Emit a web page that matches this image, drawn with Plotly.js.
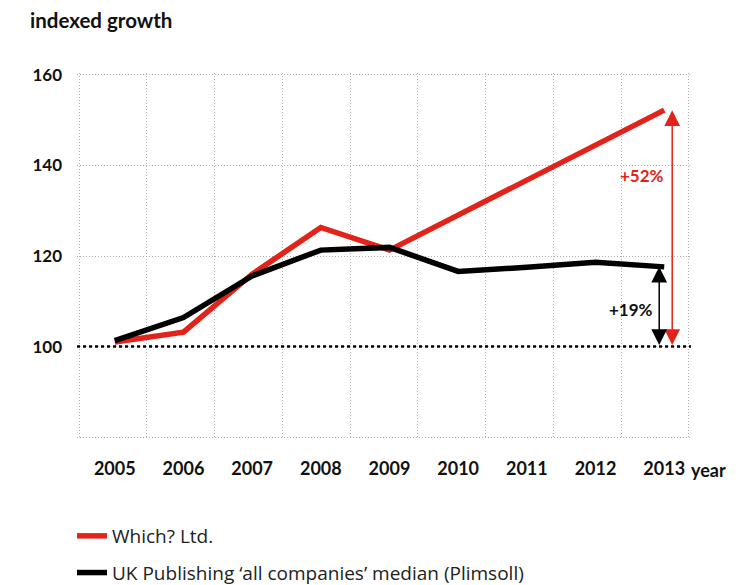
<!DOCTYPE html>
<html>
<head>
<meta charset="utf-8">
<script src="https://cdn.plot.ly/plotly-3.0.1.min.js"></script>
<style>html,body{margin:0;padding:0;background:#fff}#chart{width:756px;height:585px}</style>
</head>
<body>
<div id="chart"></div>
<script>
const years = [2005, 2006, 2007, 2008, 2009, 2010, 2011, 2012, 2013];
const whichValues = [101.0, 103.2, 116.0, 126.3, 121.3, 129.0, 136.7, 144.4, 152.2];
const plimsollValues = [101.3, 106.4, 115.6, 121.3, 121.9, 116.6, 117.5, 118.6, 117.6];
const yTickVals = [80, 100, 120, 140, 160];
const yTickText = ['', '100', '120', '140', '160'];
const seriesNames = ['Which? Ltd.', 'UK Publishing \u2018all companies\u2019 median (Plimsoll)'];
const growthLabels = ['+52%', '+19%'];
const baseline = 100;

const RED = '#e2231a';
const FONT = 'Lato, "Open Sans", sans-serif';
const GRID = '#b0b0b0';

const traces = [
  {x: years, y: whichValues, name: seriesNames[0], mode: 'lines', legendgroup: 'a',
   line: {color: RED, width: 5.5}, hoverinfo: 'skip'},
  {x: years, y: plimsollValues, name: seriesNames[1], mode: 'lines', legendgroup: 'b',
   line: {color: '#000', width: 5.5}, hoverinfo: 'skip'},
  {x: [0, 9], y: [null, null], xaxis: 'x2', yaxis: 'y', showlegend: false, hoverinfo: 'skip', mode: 'lines'}
];

const lastW = whichValues[whichValues.length - 1];
const lastP = plimsollValues[plimsollValues.length - 1];
const lastYear = years[years.length - 1];

const layout = {
  width: 756, height: 585,
  margin: {l: 77, r: 65, t: 73, b: 146, autoexpand: false},
  paper_bgcolor: '#fff', plot_bgcolor: '#fff',
  font: {family: FONT, color: '#111'},
  title: {text: '<b>indexed growth</b>', x: 30/756, xanchor: 'left', xref: 'container',
          y: 1 - 21/585, yanchor: 'middle', font: {size: 20.5, color: '#111', family: FONT}},
  xaxis: {range: [2004.45, 2013.39], tickvals: years, ticktext: years.map(String), tickangle: 0,
          showgrid: false, zeroline: false, showline: false, ticks: '', automargin: false,
          ticklabelstandoff: 17, tickfont: {size: 18, color: '#111', family: FONT, weight: 'bold'}},
  xaxis2: {overlaying: 'x', range: [-0.03, 9.03], dtick: 1, tick0: 0, showgrid: true,
           gridcolor: GRID, griddash: '1px,2px', gridwidth: 1,
           showticklabels: false, zeroline: false, showline: false, ticks: ''},
  yaxis: {range: [79.6, 160.4], tickvals: yTickVals, ticktext: yTickText,
          showgrid: true, gridcolor: GRID, griddash: '1px,2px', gridwidth: 1, automargin: false,
          zeroline: false, showline: false, ticks: '', ticklabelstandoff: 14,
          tickfont: {size: 17, color: '#111', family: FONT, weight: 'bold'}},
  showlegend: true,
  legend: {x: 72/756, xref: 'container', xanchor: 'left', y: 1 - 517/585, yref: 'container', yanchor: 'top',
           tracegroupgap: 9, font: {size: 19, color: '#222', family: '"Open Sans", Lato, sans-serif'},
           bgcolor: 'rgba(0,0,0,0)'},
  shapes: [
    {type: 'line', xref: 'paper', x0: 0, x1: 1, yref: 'y', y0: baseline, y1: baseline,
     line: {color: '#000', width: 2.5, dash: 'dot'}}
  ],
  annotations: [
    {x: lastYear, y: lastW, ax: lastYear, ay: baseline, xref: 'x', yref: 'y', axref: 'x', ayref: 'y',
     xshift: 8, text: '', showarrow: true, arrowside: 'end+start', arrowhead: 2, arrowsize: 2.1,
     arrowwidth: 1.5, arrowcolor: RED},
    {x: lastYear, y: lastP, ax: lastYear, ay: baseline, xref: 'x', yref: 'y', axref: 'x', ayref: 'y',
     xshift: -5, text: '', showarrow: true, arrowside: 'end+start', arrowhead: 2, arrowsize: 2.1,
     arrowwidth: 1.5, arrowcolor: '#000'},
    {x: lastYear, y: 137.8, xref: 'x', yref: 'y', xshift: -22, text: '<b>' + growthLabels[0] + '</b>',
     showarrow: false, font: {size: 17, color: RED, family: FONT}},
    {x: lastYear, y: 108.3, xref: 'x', yref: 'y', xshift: -33, text: '<b>' + growthLabels[1] + '</b>',
     showarrow: false, font: {size: 17, color: '#111', family: FONT}},
    {x: 1.0, xref: 'paper', xanchor: 'left', y: 0, yref: 'paper', yanchor: 'top', yshift: -18, xshift: -2,
     text: '<b>year</b>', showarrow: false, font: {size: 18, color: '#111', family: FONT}}
  ]
};

Plotly.newPlot('chart', traces, layout, {displayModeBar: false, staticPlot: true});
</script>
</body>
</html>
